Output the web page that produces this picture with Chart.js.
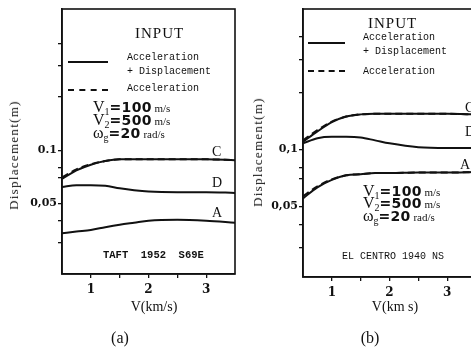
<!DOCTYPE html>
<html>
<head>
<meta charset="utf-8">
<script src="https://cdn.jsdelivr.net/npm/chart.js@4/dist/chart.umd.min.js"></script>
<style>
  html, body { margin:0; padding:0; background:#fff; width:471px; height:347px; overflow:hidden; }
  #wrap { position:relative; width:471px; height:347px; overflow:hidden; }
  canvas { position:absolute; top:0; }
  .t { position:absolute; color:#111; white-space:pre; transform:translateY(-50%); line-height:1; }
  .serif { font-family:"Liberation Serif", "DejaVu Serif", serif; }
  .mono { font-family:"Liberation Mono", "DejaVu Sans Mono", monospace; font-size:10px; }
  .line { position:absolute; height:0; border-top:2px solid #111; }
  .dash { position:absolute; height:0; border-top:2px dashed #111; }
  .par { font-family:"Liberation Serif", serif; font-size:16px; }
  .par b { font-family:"DejaVu Sans", sans-serif; font-weight:bold; font-size:14px; letter-spacing:0.3px; }
  .par sub { font-size:10px; vertical-align:-3px; }
  .par .u { font-size:11px; }
  .ytitle { position:absolute; font-family:"Liberation Serif", serif; font-size:13px; letter-spacing:1.3px; color:#111; transform:translate(-50%,-50%) rotate(-90deg); white-space:nowrap; }
  .xtitle { position:absolute; font-family:"Liberation Serif", serif; font-size:14px; color:#111; transform:translate(-50%,-50%); white-space:nowrap; }
</style>
</head>
<body>
<div id="wrap">
  <canvas id="ca" width="240" height="347" style="left:0"></canvas>
  <canvas id="cb" width="240" height="347" style="left:240px"></canvas>

  <!-- panel (a) annotations -->
  <div class="t serif" style="left:135px;top:33px;font-size:15px;letter-spacing:1px;">INPUT</div>
  <div class="line" style="left:68px;top:61px;width:40px;"></div>
  <div class="t mono" style="left:127px;top:58px;">Acceleration</div>
  <div class="t mono" style="left:127px;top:72px;">+ Displacement</div>
  <div class="dash" style="left:68px;top:89px;width:40px;"></div>
  <div class="t mono" style="left:127px;top:89px;">Acceleration</div>
  <div class="t par" style="left:93px;top:108px;">V<sub>1</sub><b>=100</b><span class="u"> m/s</span></div>
  <div class="t par" style="left:93px;top:121px;">V<sub>2</sub><b>=500</b><span class="u"> m/s</span></div>
  <div class="t par" style="left:93px;top:134px;">ω<sub>g</sub><b>=20</b><span class="u"> rad/s</span></div>
  <div class="t serif" style="left:212px;top:152px;font-size:14px;">C</div>
  <div class="t serif" style="left:212px;top:183px;font-size:14px;">D</div>
  <div class="t serif" style="left:212px;top:213px;font-size:14px;">A</div>
  <div class="t mono" style="left:103px;top:255px;font-size:10.5px;font-weight:bold;">TAFT  1952  S69E</div>
  <div class="ytitle" style="left:14px;top:155px;">Displacement(m)</div>
  <div class="xtitle" style="left:154px;top:307px;">V(km/s)</div>
  <div class="xtitle" style="left:120px;top:338px;font-size:16px;">(a)</div>

  <!-- panel (b) annotations -->
  <div class="t serif" style="left:368px;top:23px;font-size:15px;letter-spacing:1px;">INPUT</div>
  <div class="line" style="left:308px;top:42px;width:37px;"></div>
  <div class="t mono" style="left:363px;top:38px;">Acceleration</div>
  <div class="t mono" style="left:363px;top:52px;">+ Displacement</div>
  <div class="dash" style="left:308px;top:70px;width:37px;"></div>
  <div class="t mono" style="left:363px;top:72px;">Acceleration</div>
  <div class="t serif" style="left:465px;top:108px;font-size:14px;">C</div>
  <div class="t serif" style="left:465px;top:132px;font-size:14px;">D</div>
  <div class="t serif" style="left:460px;top:165px;font-size:14px;">A</div>
  <div class="t par" style="left:363px;top:192px;">V<sub>1</sub><b>=100</b><span class="u"> m/s</span></div>
  <div class="t par" style="left:363px;top:204px;">V<sub>2</sub><b>=500</b><span class="u"> m/s</span></div>
  <div class="t par" style="left:363px;top:217px;">ω<sub>g</sub><b>=20</b><span class="u"> rad/s</span></div>
  <div class="t mono" style="left:342px;top:257px;font-size:10px;">EL CENTRO 1940 NS</div>
  <div class="ytitle" style="left:258px;top:152px;">Displacement(m)</div>
  <div class="xtitle" style="left:395px;top:307px;">V(km s)</div>
  <div class="xtitle" style="left:370px;top:338px;font-size:16px;">(b)</div>
</div>
<script>
// ---- data ----
const velocity = [0.5, 0.75, 1.0, 1.25, 1.5, 1.75, 2.0, 2.5, 3.0, 3.5];   // V (km/s)

// (a) TAFT 1952 S69E  – acceleration + displacement input (solid)
const taftC = [0.069, 0.077, 0.083, 0.087, 0.089, 0.089, 0.089, 0.089, 0.089, 0.088];
const taftD = [0.062, 0.0635, 0.0635, 0.063, 0.061, 0.0595, 0.0585, 0.058, 0.058, 0.0575];
const taftA = [0.034, 0.0348, 0.0355, 0.0368, 0.038, 0.039, 0.040, 0.0405, 0.040, 0.039];
// (a) acceleration-only input (dashed)
const taftCacc = [0.0705, 0.078, 0.0835, 0.087, 0.089, 0.089, 0.089, 0.089, 0.089, 0.088];

// (b) EL CENTRO 1940 NS – acceleration + displacement input (solid)
const elcC = [0.110, 0.125, 0.140, 0.150, 0.154, 0.155, 0.155, 0.155, 0.155, 0.154];
const elcD = [0.108, 0.115, 0.117, 0.117, 0.116, 0.112, 0.108, 0.103, 0.102, 0.102];
const elcA = [0.055, 0.063, 0.069, 0.073, 0.074, 0.075, 0.075, 0.0755, 0.0755, 0.076];
// (b) acceleration-only input (dashed)
const elcCacc = [0.112, 0.127, 0.141, 0.150, 0.154, 0.155, 0.155, 0.155, 0.155, 0.154];
const elcAacc = [0.0565, 0.0638, 0.0695, 0.073, 0.074, 0.075, 0.075, 0.0755, 0.0755, 0.076];

// axis ticks
const xTicks = [1, 1.5, 2, 2.5, 3];
const xLabels = {1: '1', 2: '2', 3: '3'};
const yTicks = [0.03, 0.04, 0.05, 0.07, 0.08, 0.1, 0.2, 0.3, 0.4];
const yLabelsA = {0.1: '0.1', 0.05: '0,05'};
const yLabelsB = {0.1: '0,1', 0.05: '0,05'};

const pts = ys => velocity.map((v, i) => ({x: v, y: ys[i]}));

const boxPlugin = {
  id: 'box',
  afterDraw(chart) {
    const {ctx, chartArea: a} = chart;
    ctx.save();
    ctx.strokeStyle = '#111';
    ctx.lineWidth = 1.6;
    ctx.strokeRect(a.left, a.top, a.right - a.left, a.bottom - a.top);
    ctx.restore();
  }
};

function ds(data, dashed) {
  return {
    data: pts(data),
    borderColor: '#111',
    borderWidth: 2,
    borderDash: dashed ? [7, 4] : [],
    pointRadius: 0,
    fill: false,
    cubicInterpolationMode: 'monotone'
  };
}

function makeChart(id, series, yMin, yMax, yLabels, yWidth, xHeight, padRight) {
  return new Chart(document.getElementById(id), {
    type: 'line',
    data: { datasets: series },
    plugins: [boxPlugin],
    options: {
      responsive: false,
      animation: false,
      devicePixelRatio: 1,
      layout: { padding: { left: 0, top: 9, right: padRight, bottom: 0 } },
      plugins: { legend: { display: false }, tooltip: { enabled: false } },
      scales: {
        x: {
          type: 'linear', min: 0.5, max: 3.5,
          afterBuildTicks: s => { s.ticks = xTicks.map(v => ({value: v})); },
          afterFit: s => { s.height = xHeight; },
          border: { display: true, color: '#111', width: 1.6 },
          grid: { drawOnChartArea: false, drawTicks: true, tickLength: 4, color: '#111', lineWidth: 1.3 },
          ticks: {
            autoSkip: false, maxRotation: 0, padding: 5, color: '#111',
            font: { family: 'DejaVu Serif', weight: 'bold', size: 12 },
            callback: v => xLabels[v] || ''
          }
        },
        y: {
          type: 'logarithmic', min: yMin, max: yMax,
          afterBuildTicks: s => { s.ticks = yTicks.map(v => ({value: v})); },
          afterFit: s => { s.width = yWidth; },
          border: { display: true, color: '#111', width: 1.6 },
          grid: { drawOnChartArea: false, drawTicks: true, tickLength: 4, color: '#111', lineWidth: 1.3 },
          ticks: {
            autoSkip: false, padding: 1, color: '#111',
            font: { family: 'DejaVu Serif', weight: 'bold', size: 11 },
            callback: v => yLabels[v] || ''
          }
        }
      }
    }
  });
}

makeChart('ca', [ds(taftC), ds(taftD), ds(taftA), ds(taftCacc, true)],
          0.02, 0.63, yLabelsA, 62, 73, 5);
makeChart('cb', [ds(elcC), ds(elcD), ds(elcA), ds(elcCacc, true), ds(elcAacc, true)],
          0.021, 0.56, yLabelsB, 63, 70, 4);
</script>
</body>
</html>
